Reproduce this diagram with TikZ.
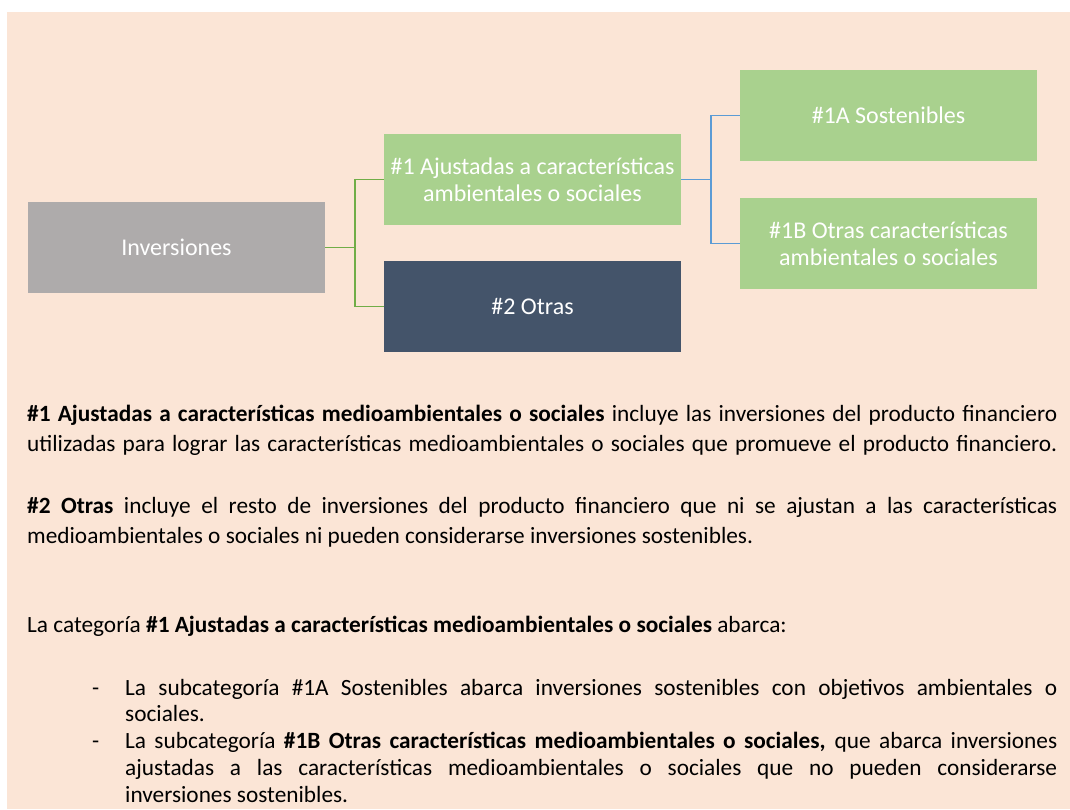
\documentclass[tikz,border=0pt]{standalone}
\usepackage{fontspec}
\setmainfont{Carlito}
\hyphenpenalty=10000
\exhyphenpenalty=10000
\definecolor{bgc}{HTML}{FBE5D6}
\definecolor{grayc}{HTML}{AEABAB}
\definecolor{greenc}{HTML}{A9D18E}
\definecolor{darkc}{HTML}{44546A}
\definecolor{glinec}{HTML}{70AD47}
\definecolor{blinec}{HTML}{5B9BD5}
\tikzset{
  box/.style={minimum width=297pt, minimum height=91pt, inner sep=2pt, text=white, align=center,
    font=\fontsize{24}{27}\selectfont},
  gline/.style={draw=glinec, line width=1.8pt},
  bline/.style={draw=blinec, line width=1.8pt},
  para/.style={inner sep=0pt, anchor=base west, text width=1030pt, align=justify,
    font=\fontsize{23.3}{30}\selectfont},
  listtext/.style={inner sep=0pt, anchor=base west, text width=932pt, align=justify,
    font=\fontsize{23.3}{26.8}\selectfont},
  dashmark/.style={inner sep=0pt, anchor=base west, font=\fontsize{23.3}{26.8}\selectfont}
}
\begin{document}
\begin{tikzpicture}[x=1pt,y=-1pt]
\useasboundingbox (0,0) rectangle (1070,809);
\fill[bgc] (7,12) rectangle (1070,809);

\node[box, fill=grayc] (inv) at (176.5,247.5) {Inversiones};
\node[box, fill=greenc] (n1) at (532.5,179.5) {\#1 Ajustadas a características\\ambientales o sociales};
\node[box, fill=darkc] (n2) at (532.5,306.5) {\#2 Otras};
\node[box, fill=greenc] (n1a) at (888.5,115.5) {\#1A Sostenibles};
\node[box, fill=greenc] (n1b) at (888.5,243.5) {\#1B Otras características\\ambientales o sociales};

\draw[gline] (inv.east) -- ++(29.5,0) coordinate (j1) |- (n1.west);
\draw[gline] (j1) |- (n2.west);
\draw[bline] (n1.east) -- ++(30,0) coordinate (j2) |- (n1a.west);
\draw[bline] (j2) |- (n1b.west);

\node[para] (p1) at (27,421.5) {\parfillskip=0pt \textbf{\#1 Ajustadas a características medioambientales o sociales} incluye las inversiones del producto financiero\linebreak utilizadas para lograr las características medioambientales o sociales que promueve el producto financiero.\par};
\node[para] (p2) at (27,513) {\textbf{\#2 Otras} incluye el resto de inversiones del producto financiero que ni se ajustan a las características\linebreak medioambientales o sociales ni pueden considerarse inversiones sostenibles.};
\node[para] (p3) at (27,632) {La categoría \textbf{\#1 Ajustadas a características medioambientales o sociales} abarca:};

\node[dashmark] (d1) at (92,695) {-};
\node[listtext] (l1) at (125,695) {La subcategoría \#1A Sostenibles abarca inversiones sostenibles con objetivos ambientales o\linebreak sociales.};
\node[dashmark] (d2) at (92,748.6) {-};
\node[listtext] (l2) at (125,748.6) {La subcategoría \textbf{\#1B Otras características medioambientales o sociales,} que abarca inversiones\linebreak ajustadas a las características medioambientales o sociales que no pueden considerarse\linebreak inversiones sostenibles.};
\end{tikzpicture}
\end{document}
